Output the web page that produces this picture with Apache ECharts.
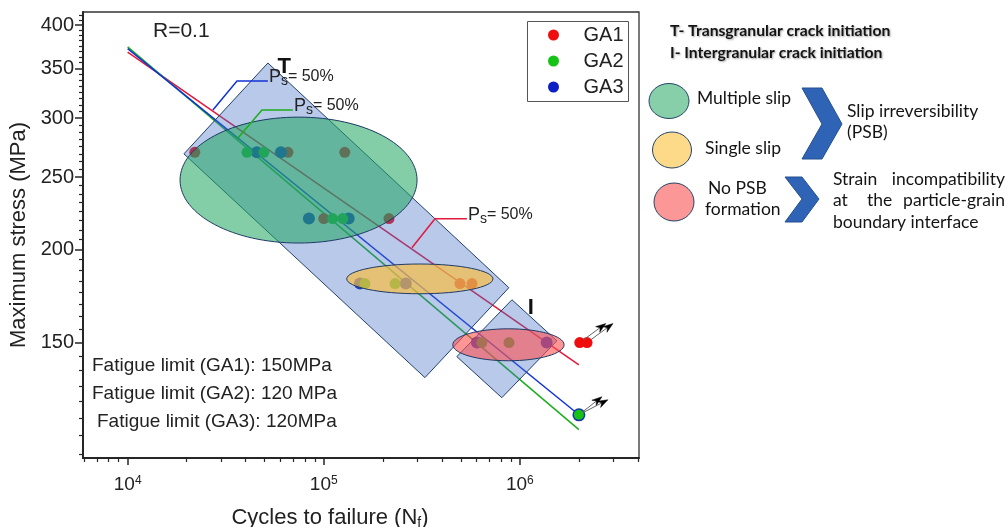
<!DOCTYPE html>
<html>
<head>
<meta charset="utf-8">
<script src="https://cdn.jsdelivr.net/npm/echarts@6/dist/echarts.min.js"></script>
<style>
  html, body { margin: 0; padding: 0; background: #fff; }
  #chart { width: 1007px; height: 527px; }
</style>
</head>
<body>
<div id="chart"></div>
<script>
// S-N data: [cycles to failure, maximum stress (MPa)]
const ga1Points = [[2.2e4, 270], [6.57e4, 270], [1.28e5, 270], [1.0e5, 220], [2.15e5, 220], [4.95e5, 180], [5.7e5, 180]];
const ga2Points = [[4.06e4, 270], [4.95e4, 270], [1.11e5, 220], [1.25e5, 220], [1.62e5, 180], [2.31e5, 180], [6.4e5, 150], [8.8e5, 150]];
const ga3Points = [[4.56e4, 270], [6.05e4, 270], [8.4e4, 220], [1.34e5, 220], [1.53e5, 180], [2.62e5, 180], [6.04e5, 150], [1.37e6, 150]];

// Run-outs (specimens that did not fail)
const ga1Runouts = [[2.02e6, 150], [2.2e6, 150]];
const ga2Runouts = [[2e6, 120]];
const ga3Runouts = [[2e6, 120]];

// Ps = 50 % S-N curves (end points)
const ga1Fit = [[1e4, 368], [2e6, 140]];
const ga2Fit = [[1e4, 374], [2e6, 114.6]];
const ga3Fit = [[1e4, 372], [2e6, 120]];

// Ps = 50 % call-out leaders
const ga1Leader = [[2.815e5, 201], [3.69e5, 219.9], [5.37e5, 219.9]];
const ga2Leader = [[3.65e4, 282.2], [4.84e4, 307.7], [6.96e4, 307.7]];
const ga3Leader = [[2.72e4, 307.7], [3.61e4, 336.5], [5.19e4, 336.5]];

// Crack initiation bands (corner points)
const transgranularBand = [[5.19e4, 355.8], [8.79e5, 177.7], [3.28e5, 134.6], [1.936e4, 268.7]];
const intergranularBand = [[9.11e5, 171.2], [1.544e6, 150.8], [8.09e5, 126.5], [4.77e5, 143.6]];
const bandLabels = ['T', 'I'];
const bandLabelAnchors = [[6.28e4, 351.4], [1.138e6, 167]];

// Deformation mechanism zones: [N min, N max, S min, S max]
const multipleSlipZone = [1.85e4, 2.99e5, 204, 301];
const singleSlipZone = [1.31e5, 7.29e5, 174.4, 191.2];
const noPsbZone = [4.55e5, 1.68e6, 141.8, 156.5];

// Axis ticks
const stressTicks = [150, 200, 250, 300, 350, 400];
const cycleTicks = [1e4, 1e5, 1e6];

const xMin = 5920, xMax = 4.05e6, yMin = 105, yMax = 416.5;

const stressMinor = [];
for (let v = 106.25; v < yMax; v += 6.25) if (v % 50 !== 0) stressMinor.push(v);
const cycleMinor = [];
for (let d = 1e3; d <= 1e6; d *= 10) {
  for (let k = 2; k <= 9; k++) { const v = k * d; if (v > xMin && v < xMax) cycleMinor.push(v); }
}

const FONT = '"Liberation Sans", Arial, sans-serif';
const PANEL_FONT = 'Lato, "Open Sans", sans-serif';
const INK = '#222';
const PANEL_INK = '#141414';
const AXIS = '#262626';

const RED = '#f00d0d', GREEN = '#14c314', BLUE = '#0a1fc4';
const RED_LINE = '#e2183c', GREEN_LINE = '#1cae1c', BLUE_LINE = '#1232d8';

const bands = [transgranularBand, intergranularBand];
const zones = [multipleSlipZone, singleSlipZone, noPsbZone];
const zoneFills = ['rgba(30,165,95,0.55)', 'rgba(250,188,64,0.68)', 'rgba(255,80,80,0.6)'];
const leaders = [ga1Leader, ga2Leader, ga3Leader];
const leaderColors = [RED_LINE, GREEN_LINE, BLUE_LINE];

// run-out arrows: point + pixel direction of the arrow
const arrowItems = [];
ga1Runouts.forEach(p => arrowItems.push({ p, d: [26, -19] }));
ga2Runouts.forEach(p => arrowItems.push({ p, d: [23, -18] }));
ga3Runouts.forEach(p => arrowItems.push({ p, d: [29, -15] }));

const chart = echarts.init(document.getElementById('chart'), null, { renderer: 'canvas' });

function minorAxis(position, ticks, len, min, max) {
  return {
    type: 'log', logBase: 10, position, min, max,
    axisLine: { show: false },
    axisTick: { show: true, customValues: ticks, length: len, lineStyle: { color: AXIS, width: 1.2 } },
    axisLabel: { show: false },
    splitLine: { show: false }
  };
}

function panelText(x, y, text, extra) {
  return { type: 'text', x, y, style: Object.assign({ text, fontFamily: PANEL_FONT, fontSize: 17.5, fill: PANEL_INK, verticalAlign: 'middle' }, extra || {}) };
}

const headerStyle = { fontSize: 15.7, fontWeight: 'bold', textShadowColor: 'rgba(0,0,0,0.35)', textShadowBlur: 2, textShadowOffsetX: 1, textShadowOffsetY: 1 };

const option = {
  backgroundColor: '#fff',
  animation: false,
  grid: {
    left: 83, top: 12, width: 556, height: 446,
    outerBoundsMode: 'none', containLabel: false,
    show: true, borderColor: '#333', borderWidth: 1.3, backgroundColor: 'transparent'
  },
  legend: {
    data: ['GA1', 'GA2', 'GA3'],
    orient: 'vertical', left: 547, top: 21,
    icon: 'circle', itemWidth: 50, itemHeight: 11, itemGap: 6,
    padding: [4, 5, 5, 1],
    textStyle: { fontFamily: FONT, fontSize: 20, color: INK, lineHeight: 20 },
    selectedMode: false
  },
  xAxis: [
    {
      type: 'log', logBase: 10, min: xMin, max: xMax, position: 'bottom',
      axisLine: { show: true, onZero: false, lineStyle: { color: AXIS, width: 2 } },
      axisTick: { show: true, customValues: cycleTicks, length: 7, lineStyle: { color: AXIS, width: 1.5 } },
      axisLabel: {
        customValues: cycleTicks, margin: 17,
        formatter: v => '10{sup|' + Math.round(Math.log10(v)) + '}',
        fontFamily: FONT, fontSize: 19, color: INK, lineHeight: 20,
        rich: { sup: { fontFamily: FONT, fontSize: 12, color: INK, verticalAlign: 'top', lineHeight: 12 } }
      },
      splitLine: { show: false },
      name: 'Cycles to failure (N{sub|f})', nameLocation: 'middle', nameGap: 48,
      nameTextStyle: {
        fontFamily: FONT, fontSize: 22, color: INK, lineHeight: 24, padding: [0, 62, 0, 0],
        rich: { sub: { fontFamily: FONT, fontSize: 14, color: INK, verticalAlign: 'bottom', lineHeight: 14 } }
      }
    },
    minorAxis('bottom', cycleMinor, 4, xMin, xMax)
  ],
  yAxis: [
    {
      type: 'log', logBase: 10, min: yMin, max: yMax, position: 'left',
      axisLine: { show: true, onZero: false, lineStyle: { color: AXIS, width: 2 } },
      axisTick: { show: true, customValues: stressTicks, length: 8, lineStyle: { color: AXIS, width: 1.5 } },
      axisLabel: { customValues: stressTicks, margin: 9, fontFamily: FONT, fontSize: 20, color: INK },
      splitLine: { show: false },
      name: 'Maximum stress (MPa)', nameLocation: 'middle', nameGap: 47,
      nameTextStyle: { fontFamily: FONT, fontSize: 22, color: INK }
    },
    minorAxis('left', stressMinor, 4, yMin, yMax)
  ],
  series: [
    // S-N curves
    { name: 'GA1 curve', type: 'line', data: ga1Fit, symbol: 'none', lineStyle: { color: RED_LINE, width: 1.5 }, z: 2, silent: true },
    { name: 'GA2 curve', type: 'line', data: ga2Fit, symbol: 'none', lineStyle: { color: GREEN_LINE, width: 1.5 }, z: 2, silent: true },
    { name: 'GA3 curve', type: 'line', data: ga3Fit, symbol: 'none', lineStyle: { color: BLUE_LINE, width: 1.5 }, z: 2, silent: true },
    // test points
    { name: 'GA1', type: 'scatter', data: ga1Points, symbolSize: 11, itemStyle: { color: RED, opacity: 1 }, z: 2 },
    { name: 'GA3', type: 'scatter', data: ga3Points, symbolSize: 12, itemStyle: { color: BLUE, opacity: 1 }, z: 2 },
    { name: 'GA2', type: 'scatter', data: ga2Points, symbolSize: 11, itemStyle: { color: GREEN, opacity: 1 }, z: 2 },
    { name: 'GA1', type: 'scatter', data: ga1Runouts, symbolSize: 11, itemStyle: { color: RED, opacity: 1 }, z: 2 },
    { name: 'GA3', type: 'scatter', data: ga3Runouts, symbolSize: 13, itemStyle: { color: '#1238a8', opacity: 1 }, z: 2 },
    { name: 'GA2', type: 'scatter', data: ga2Runouts, symbolSize: 10, itemStyle: { color: GREEN, opacity: 1 }, z: 2 },
    // crack initiation bands
    {
      name: 'bands', type: 'custom', silent: true, z: 3,
      data: bands.map(b => b[0]),
      renderItem: (params, api) => {
        const pts = bands[params.dataIndex].map(p => api.coord(p));
        return { type: 'polygon', shape: { points: pts }, style: { fill: 'rgba(68,114,196,0.38)', stroke: '#22406e', lineWidth: 1 } };
      }
    },
    // deformation mechanism zones
    {
      name: 'zones', type: 'custom', silent: true, z: 4,
      data: zones.map(zn => [zn[0], zn[2]]),
      renderItem: (params, api) => {
        const zn = zones[params.dataIndex];
        const a = api.coord([zn[0], zn[3]]), b = api.coord([zn[1], zn[2]]);
        return {
          type: 'ellipse',
          shape: { cx: (a[0] + b[0]) / 2, cy: (a[1] + b[1]) / 2, rx: (b[0] - a[0]) / 2, ry: (b[1] - a[1]) / 2 },
          style: { fill: zoneFills[params.dataIndex], stroke: '#1f3a66', lineWidth: 1 }
        };
      }
    },
    // band labels T / I
    {
      name: 'band labels', type: 'custom', silent: true, z: 5,
      data: bandLabelAnchors,
      renderItem: (params, api) => {
        const p = api.coord(bandLabelAnchors[params.dataIndex]);
        return {
          type: 'text', x: p[0], y: p[1],
          style: { text: bandLabels[params.dataIndex], fontFamily: FONT, fontSize: 22, fontWeight: 'bold', fill: '#111', align: 'center', verticalAlign: 'middle' }
        };
      }
    },
    // Ps = 50 % call-outs
    {
      name: 'call-outs', type: 'custom', silent: true, z: 6,
      data: leaders.map(l => l[0]),
      renderItem: (params, api) => {
        const pts = leaders[params.dataIndex].map(p => api.coord(p));
        const end = pts[pts.length - 1];
        return {
          type: 'group',
          children: [
            { type: 'polyline', shape: { points: pts }, style: { stroke: leaderColors[params.dataIndex], lineWidth: 1.5, fill: 'none' } },
            {
              type: 'text', x: end[0] + 1, y: end[1] - 4,
              style: {
                text: '{p|P}{s|s}{t|= 50%}', align: 'left', verticalAlign: 'middle',
                rich: {
                  p: { fontFamily: FONT, fontSize: 18, fill: INK, lineHeight: 22 },
                  s: { fontFamily: FONT, fontSize: 14, fill: INK, lineHeight: 14, verticalAlign: 'bottom' },
                  t: { fontFamily: FONT, fontSize: 16, fill: INK, lineHeight: 22 }
                }
              }
            }
          ]
        };
      }
    },
    // run-out arrows
    {
      name: 'run-out arrows', type: 'custom', silent: true, z: 6,
      data: arrowItems.map(a => a.p),
      renderItem: (params, api) => {
        const it = arrowItems[params.dataIndex];
        const p = api.coord(it.p);
        const len = Math.hypot(it.d[0], it.d[1]);
        const u = [it.d[0] / len, it.d[1] / len], n = [-u[1], u[0]];
        const tip = [p[0] + it.d[0], p[1] + it.d[1]];
        const start = [p[0] + u[0] * 5, p[1] + u[1] * 5];
        const head = [
          tip,
          [tip[0] - u[0] * 10 + n[0] * 3.5, tip[1] - u[1] * 10 + n[1] * 3.5],
          [tip[0] - u[0] * 7, tip[1] - u[1] * 7],
          [tip[0] - u[0] * 10 - n[0] * 3.5, tip[1] - u[1] * 10 - n[1] * 3.5]
        ];
        return {
          type: 'group',
          children: [
            { type: 'line', shape: { x1: start[0], y1: start[1], x2: tip[0] - u[0] * 6, y2: tip[1] - u[1] * 6 }, style: { stroke: '#666', lineWidth: 1 } },
            { type: 'polygon', shape: { points: head }, style: { fill: '#000', stroke: '#000', lineWidth: 0.5 } }
          ]
        };
      }
    }
  ],
  graphic: [
    // legend frame
    { type: 'rect', shape: { x: 527.5, y: 21.5, width: 101, height: 80 }, style: { fill: 'none', stroke: '#555', lineWidth: 1 }, z: 10 },

    { type: 'text', x: 153, y: 31, style: { text: 'R=0.1', fontFamily: FONT, fontSize: 21, fill: INK, verticalAlign: 'middle' } },
    { type: 'text', x: 92, y: 366, style: { text: 'Fatigue limit (GA1): 150MPa', fontFamily: FONT, fontSize: 19, fill: INK, verticalAlign: 'middle' } },
    { type: 'text', x: 92, y: 394, style: { text: 'Fatigue limit (GA2): 120 MPa', fontFamily: FONT, fontSize: 19, fill: INK, verticalAlign: 'middle' } },
    { type: 'text', x: 97, y: 422, style: { text: 'Fatigue limit (GA3): 120MPa', fontFamily: FONT, fontSize: 19, fill: INK, verticalAlign: 'middle' } },

    // mechanism key
    panelText(670, 31, 'T- Transgranular crack initiation', headerStyle),
    panelText(670, 53, 'I- Intergranular crack initiation', headerStyle),

    { type: 'ellipse', shape: { cx: 669, cy: 101, rx: 20, ry: 17.5 }, style: { fill: '#86cfa8', stroke: '#24466a', lineWidth: 1 } },
    { type: 'ellipse', shape: { cx: 672, cy: 150, rx: 19.5, ry: 18 }, style: { fill: '#fdd98a', stroke: '#24466a', lineWidth: 1 } },
    { type: 'ellipse', shape: { cx: 674, cy: 202, rx: 20, ry: 19 }, style: { fill: '#fc9797', stroke: '#24466a', lineWidth: 1 } },

    panelText(697, 98, 'Multiple slip'),
    panelText(705, 148, 'Single slip'),
    panelText(708, 188, 'No PSB'),
    panelText(705, 209, 'formation'),

    { type: 'polygon', shape: { points: [[802, 88], [822, 88], [842, 124], [822, 159], [802, 159], [822, 124]] }, style: { fill: '#2f63b6', stroke: '#24508f', lineWidth: 1 } },
    { type: 'polygon', shape: { points: [[785, 177], [802, 177], [819, 199], [802, 222], [785, 222], [802, 199]] }, style: { fill: '#2f63b6', stroke: '#24508f', lineWidth: 1 } },

    panelText(847, 111, 'Slip irreversibility'),
    panelText(847, 132, '(PSB)'),

    panelText(833, 179, 'Strain'),
    panelText(1005, 179, 'incompatibility', { align: 'right' }),
    panelText(833, 200, 'at'),
    panelText(867, 200, 'the'),
    panelText(1005, 200, 'particle-grain', { align: 'right' }),
    panelText(833, 222, 'boundary interface')
  ]
};

chart.setOption(option);
</script>
</body>
</html>
